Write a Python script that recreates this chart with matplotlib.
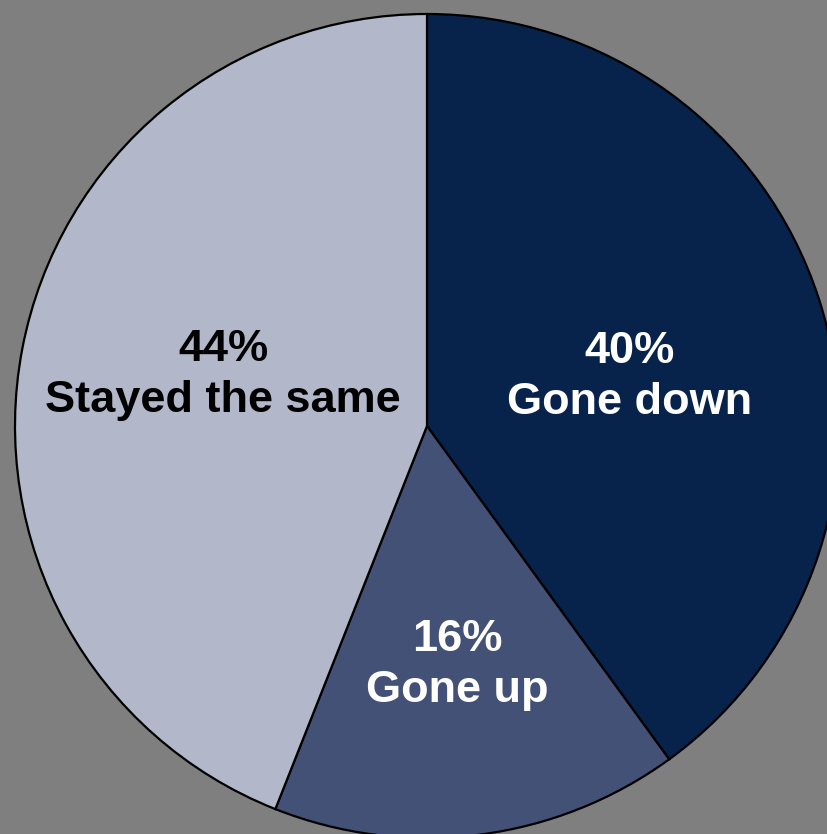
import numpy as np
import matplotlib
matplotlib.use("Agg")
import matplotlib.pyplot as plt

categories = ["Gone down", "Gone up", "Stayed the same"]
shares = [40, 16, 44]
colors = ["#07234C", "#435176", "#B3B7CA"]
text_colors = ["white", "white", "black"]
# radial distance (fraction of radius) and angular nudge (degrees) per label
label_dist = [0.505, 0.585, 0.51]
label_turn = [-4.3, 0.0, -3.2]

W, H = 828, 834
fig = plt.figure(figsize=(W / 100, H / 100), dpi=100, facecolor="#7F7F7F")
ax = fig.add_axes([0, 0, 1, 1])
ax.set_facecolor("#7F7F7F")

cx, cy, r = 427, H - 426, 412
wedges, _ = ax.pie(
    shares, colors=colors, startangle=90, counterclock=False,
    center=(cx, cy), radius=r, frame=True,
    wedgeprops=dict(edgecolor="black", linewidth=1.6),
)
ax.set_xlim(0, W)
ax.set_ylim(0, H)
ax.set_aspect("equal")
ax.axis("off")

for w, cat, val, tc, d, t in zip(wedges, categories, shares, text_colors,
                                 label_dist, label_turn):
    ang = np.deg2rad((w.theta1 + w.theta2) / 2 + t)
    x = cx + d * r * np.cos(ang)
    y = cy + d * r * np.sin(ang)
    ax.text(x, y, f"{val}%\n{cat}", ha="center", va="center", color=tc,
            fontsize=32.5, fontweight="bold", family="Liberation Sans",
            linespacing=1.31)

fig.savefig("out.png", dpi=100, facecolor=fig.get_facecolor())
